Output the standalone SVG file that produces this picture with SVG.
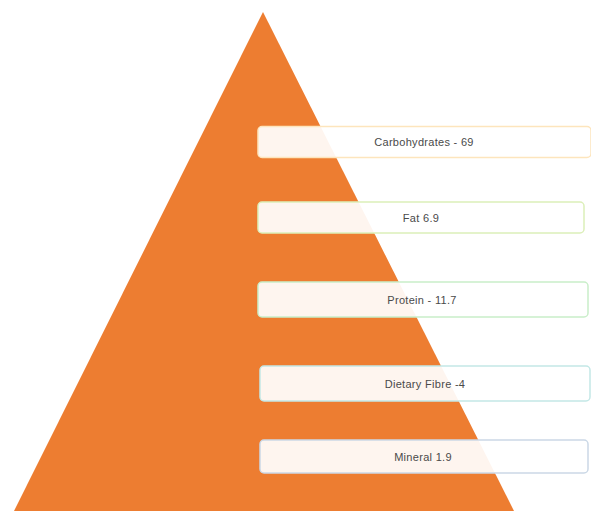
<svg xmlns="http://www.w3.org/2000/svg" width="591" height="511" viewBox="0 0 591 511">
<style>
.box{fill:#ffffff;fill-opacity:0.92;stroke-width:1.5}
.lbl{font-family:"Liberation Sans",Arial,sans-serif;font-size:11px;fill:#4a4a4a;text-anchor:middle;dominant-baseline:central;letter-spacing:0.3px}
</style>
<rect width="591" height="511" fill="#ffffff"/>
<g id="pyramid"><polygon points="263,12 14,511 514,511" fill="#ED7D31"/></g>
<g id="connectors"/>
<g id="carbohydrates"><rect class="box" x="258" y="126.5" width="333" height="31" rx="4" stroke="#fde5bd"/><text class="lbl" x="424" y="142">Carbohydrates - 69</text></g>
<g id="fat"><rect class="box" x="258" y="202" width="326" height="31" rx="4" stroke="#dcefb9"/><text class="lbl" x="421" y="217.5">Fat 6.9</text></g>
<g id="protein"><rect class="box" x="258" y="282" width="330" height="35" rx="4" stroke="#c9eec9"/><text class="lbl" x="422" y="299.5">Protein - 11.7</text></g>
<g id="fibre"><rect class="box" x="260" y="366" width="330" height="35" rx="4" stroke="#c3e8e6"/><text class="lbl" x="425" y="383.5">Dietary Fibre -4</text></g>
<g id="mineral"><rect class="box" x="260" y="440" width="328" height="33" rx="4" stroke="#cbd8e6"/><text class="lbl" x="423" y="456.5">Mineral 1.9</text></g>
</svg>
